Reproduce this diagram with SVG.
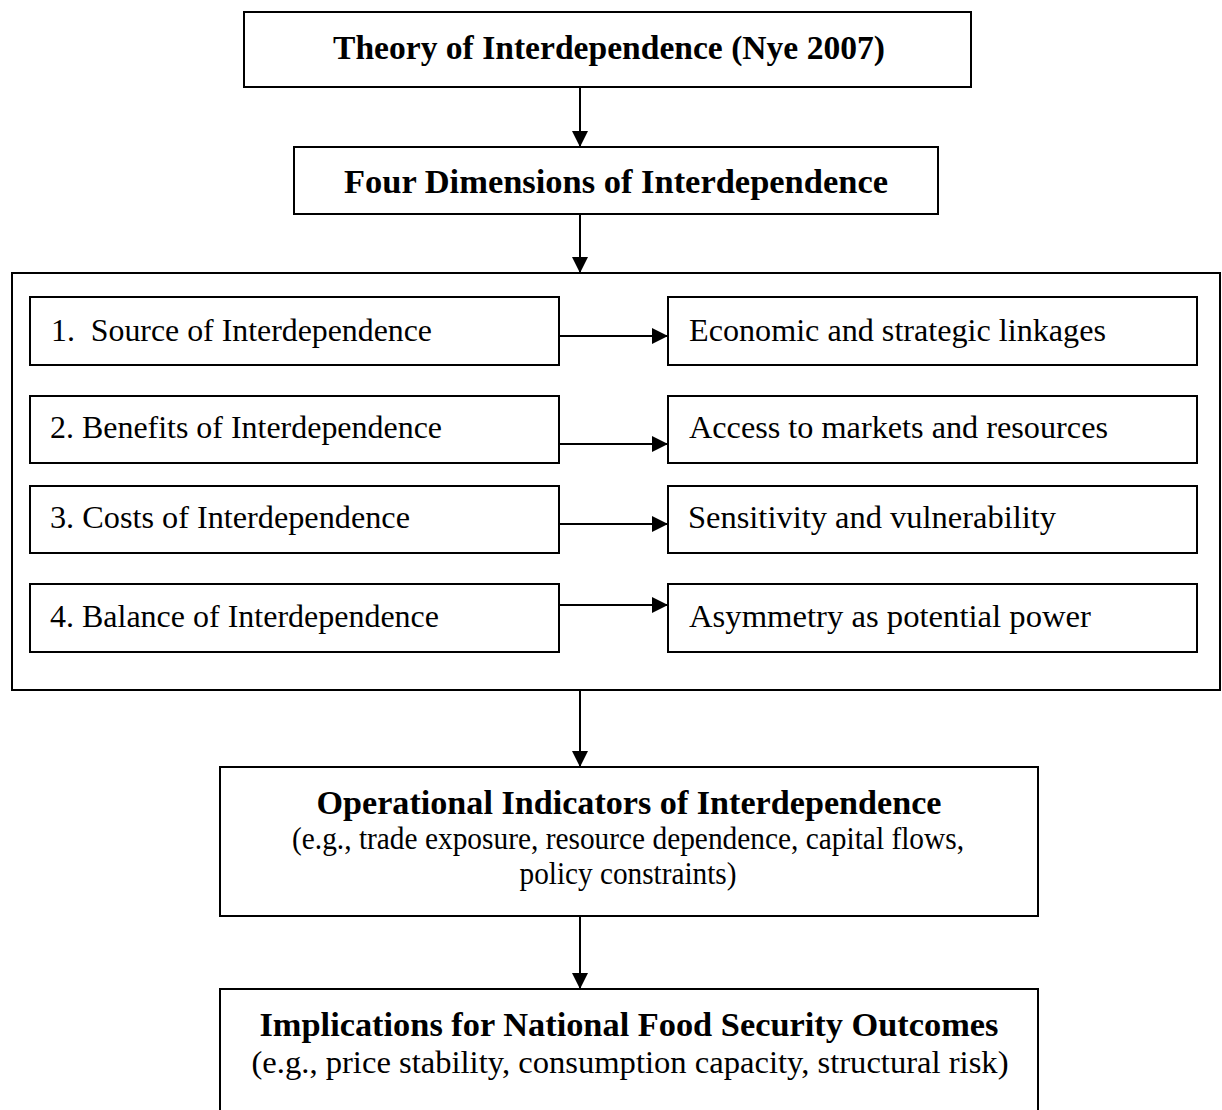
<svg xmlns="http://www.w3.org/2000/svg" width="1222" height="1110" viewBox="0 0 1222 1110">
<defs>
<style>
.box{fill:#fff;stroke:#000;stroke-width:2}
.frame{fill:none;stroke:#000;stroke-width:2}
.t{font-family:"Liberation Serif","Times New Roman",serif;font-size:31px;fill:#000}
.b{font-family:"Liberation Serif","Times New Roman",serif;font-size:34px;font-weight:bold;fill:#000}
.c{stroke:#000;stroke-width:2;fill:none}
</style>
<marker id="ah" markerWidth="16" markerHeight="16" viewBox="0 0 16 16" refX="16" refY="8" orient="auto" markerUnits="userSpaceOnUse">
<path d="M0,0 L16,8 L0,16 Z" fill="#000"/>
</marker>
</defs>
<rect width="1222" height="1110" fill="#fff"/>
<g id="theory">
<rect class="box" x="244" y="12" width="727" height="75"/>
<text class="b" x="609" y="59" text-anchor="middle" textLength="552" lengthAdjust="spacingAndGlyphs">Theory of Interdependence (Nye 2007)</text>
</g>
<g id="four-dimensions">
<rect class="box" x="294" y="147" width="644" height="67"/>
<text class="b" x="616" y="193" text-anchor="middle" textLength="544" lengthAdjust="spacingAndGlyphs">Four Dimensions of Interdependence</text>
</g>
<g id="dimensions-frame">
<rect class="frame" x="12" y="273" width="1208" height="417"/>
</g>
<g id="source">
<rect class="box" x="30" y="297" width="529" height="68"/>
<text class="t" x="51" y="341" textLength="381" lengthAdjust="spacingAndGlyphs" xml:space="preserve">1.  Source of Interdependence</text>
</g>
<g id="linkages">
<rect class="box" x="668" y="297" width="529" height="68"/>
<text class="t" x="689" y="341" textLength="417" lengthAdjust="spacingAndGlyphs">Economic and strategic linkages</text>
</g>
<g id="benefits">
<rect class="box" x="30" y="396" width="529" height="67"/>
<text class="t" x="50" y="438" textLength="392" lengthAdjust="spacingAndGlyphs">2. Benefits of Interdependence</text>
</g>
<g id="access">
<rect class="box" x="668" y="396" width="529" height="67"/>
<text class="t" x="689" y="438" textLength="419" lengthAdjust="spacingAndGlyphs">Access to markets and resources</text>
</g>
<g id="costs">
<rect class="box" x="30" y="486" width="529" height="67"/>
<text class="t" x="50" y="528" textLength="360" lengthAdjust="spacingAndGlyphs">3. Costs of Interdependence</text>
</g>
<g id="sensitivity">
<rect class="box" x="668" y="486" width="529" height="67"/>
<text class="t" x="688" y="528" textLength="368" lengthAdjust="spacingAndGlyphs">Sensitivity and vulnerability</text>
</g>
<g id="balance">
<rect class="box" x="30" y="584" width="529" height="68"/>
<text class="t" x="50" y="627" textLength="389" lengthAdjust="spacingAndGlyphs">4. Balance of Interdependence</text>
</g>
<g id="asymmetry">
<rect class="box" x="668" y="584" width="529" height="68"/>
<text class="t" x="689" y="627" textLength="402" lengthAdjust="spacingAndGlyphs">Asymmetry as potential power</text>
</g>
<g id="operational">
<rect class="box" x="220" y="767" width="818" height="149"/>
<text class="b" x="629" y="814" text-anchor="middle" textLength="625" lengthAdjust="spacingAndGlyphs">Operational Indicators of Interdependence</text>
<text class="t" x="628" y="849" text-anchor="middle" textLength="672" lengthAdjust="spacingAndGlyphs">(e.g., trade exposure, resource dependence, capital flows,</text>
<text class="t" x="628" y="884" text-anchor="middle" textLength="217" lengthAdjust="spacingAndGlyphs">policy constraints)</text>
</g>
<g id="implications">
<rect class="box" x="220" y="989" width="818" height="140"/>
<text class="b" x="629" y="1036" text-anchor="middle" textLength="739" lengthAdjust="spacingAndGlyphs">Implications for National Food Security Outcomes</text>
<text class="t" x="630" y="1073" text-anchor="middle" textLength="757" lengthAdjust="spacingAndGlyphs">(e.g., price stability, consumption capacity, structural risk)</text>
</g>
<g id="connectors">
<line class="c" x1="580" y1="87" x2="580" y2="147" marker-end="url(#ah)"/>
<line class="c" x1="580" y1="214" x2="580" y2="273" marker-end="url(#ah)"/>
<line class="c" x1="559" y1="336" x2="668" y2="336" marker-end="url(#ah)"/>
<line class="c" x1="559" y1="444" x2="668" y2="444" marker-end="url(#ah)"/>
<line class="c" x1="559" y1="524" x2="668" y2="524" marker-end="url(#ah)"/>
<line class="c" x1="559" y1="605" x2="668" y2="605" marker-end="url(#ah)"/>
<line class="c" x1="580" y1="690" x2="580" y2="767" marker-end="url(#ah)"/>
<line class="c" x1="580" y1="916" x2="580" y2="989" marker-end="url(#ah)"/>
</g>
</svg>
